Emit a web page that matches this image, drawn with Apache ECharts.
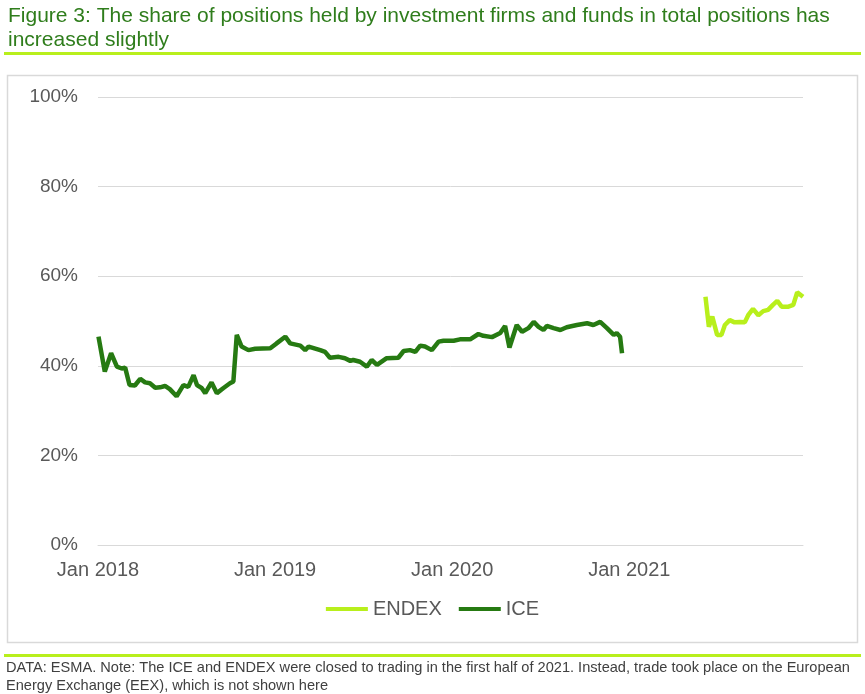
<!DOCTYPE html>
<html>
<head>
<meta charset="utf-8">
<script src="https://cdn.jsdelivr.net/npm/echarts@6/dist/echarts.min.js"></script>
<style>
  html, body { margin: 0; padding: 0; background: #fff; }
  #chart { width: 865px; height: 694px; }
</style>
</head>
<body>
<div id="chart"></div>
<script>
// weekly-ish readings, share of positions (%)
var iceDates = ['2018-01-02','2018-01-15','2018-01-28','2018-02-09','2018-02-19','2018-02-26','2018-03-07','2018-03-18','2018-03-29','2018-04-08',
  '2018-04-18','2018-04-29','2018-05-09','2018-05-19','2018-05-29','2018-06-12','2018-06-26','2018-07-06','2018-07-17','2018-07-24',
  '2018-08-03','2018-08-10','2018-08-23','2018-09-03','2018-09-16','2018-09-30','2018-10-07','2018-10-14','2018-10-24','2018-11-07',
  '2018-11-21','2018-12-22','2019-01-04','2019-01-22','2019-02-01','2019-02-22','2019-03-04','2019-03-11','2019-04-04','2019-04-14',
  '2019-04-24','2019-05-12','2019-05-25','2019-06-05','2019-06-11','2019-06-25','2019-07-09','2019-07-19','2019-07-30','2019-08-19',
  '2019-09-12','2019-09-23','2019-10-06','2019-10-17','2019-10-27','2019-11-06','2019-11-20','2019-12-04','2019-12-14','2020-01-04',
  '2020-01-17','2020-02-07','2020-02-24','2020-03-05','2020-03-23','2020-04-09','2020-04-19','2020-04-28','2020-05-13','2020-05-24',
  '2020-06-06','2020-06-17','2020-06-27','2020-07-07','2020-07-14','2020-07-28','2020-08-11','2020-08-24','2020-09-14','2020-10-05',
  '2020-10-18','2020-11-01','2020-11-15','2020-11-29','2020-12-05','2020-12-12','2020-12-16'];
var iceValues = [46.5,38.7,42.8,39.8,39.4,39.6,35.7,35.6,37.1,36.3,
  36.1,35.1,35.2,35.5,34.8,33.2,35.7,35.3,37.9,35.7,
  35.0,33.9,36.3,33.9,35.0,36.1,36.5,46.9,44.3,43.5,
  43.8,43.9,45.0,46.5,45.0,44.5,43.5,44.3,43.5,43.1,
  41.8,42.0,41.7,41.1,41.3,40.9,39.8,41.3,40.2,41.7,
  41.8,43.3,43.5,43.1,44.5,44.3,43.5,45.4,45.6,45.6,
  45.9,45.9,47.1,46.7,46.4,47.3,48.9,44.1,49.1,47.6,
  48.4,49.8,48.7,48.0,48.9,48.4,48.0,48.6,49.1,49.5,
  49.1,49.8,48.4,46.9,47.3,46.5,42.8];

var endexDates = ['2021-06-06','2021-06-13','2021-06-20','2021-06-30','2021-07-09','2021-07-16','2021-07-26','2021-08-05','2021-08-16','2021-08-26',
  '2021-09-02','2021-09-12','2021-09-23','2021-10-03','2021-10-13','2021-10-23','2021-11-01','2021-11-10','2021-11-24','2021-12-04',
  '2021-12-12','2021-12-24'];
var endexValues = [55.4,48.7,51.0,46.9,46.9,49.1,50.2,49.7,49.8,49.7,
  51.3,52.7,51.3,52.2,52.5,53.6,54.5,53.2,53.2,53.6,
  56.4,55.4];

var yTicks = [0, 20, 40, 60, 80, 100];
var xStart = '2018-01-01';
var xEnd = '2021-12-24';

var chart = echarts.init(document.getElementById('chart'));

// days since xStart
function dayNo(s){
    var p = s.split('-');
    var p0 = xStart.split('-');
    return Math.round((Date.UTC(+p[0], p[1]-1, +p[2]) - Date.UTC(+p0[0], p0[1]-1, +p0[2])) / 86400000);
}
function pairs(dates, vals){
    var out = [];
    for (var i = 0; i < dates.length; i++) out.push([dayNo(dates[i]), vals[i]]);
    return out;
}

var font = 'Liberation Sans, Arial, sans-serif';
var lime = '#b8ef1c';

var option = {
    animation: false,
    backgroundColor: '#fff',
    textStyle: { fontFamily: font },
    title: {
        text: 'Figure 3: The share of positions held by investment firms and funds in total positions has\nincreased slightly',
        left: 3, top: -1,
        textStyle: { color: '#2f7d1c', fontSize: 21, fontWeight: 'normal', lineHeight: 24, fontFamily: font }
    },
    graphic: [
        { type: 'rect', shape: { x: 4, y: 52, width: 857, height: 3 }, style: { fill: lime }, silent: true },
        { type: 'rect', shape: { x: 7.5, y: 75.5, width: 850, height: 567 }, style: { fill: 'none', stroke: '#d9d9d9', lineWidth: 1.5 }, silent: true },
        { type: 'rect', shape: { x: 4, y: 654, width: 857, height: 3 }, style: { fill: lime }, silent: true },
        { type: 'text', left: 6, top: 659,
          style: { text: 'DATA: ESMA. Note: The ICE and ENDEX were closed to trading in the first half of 2021. Instead, trade took place on the European\nEnergy Exchange (EEX), which is not shown here',
                   fill: '#404040', fontSize: 14.6, lineHeight: 18, fontFamily: font } }
    ],
    legend: {
        bottom: 70,
        left: 'center',
        itemWidth: 42, itemHeight: 4, itemGap: 17,
        icon: 'rect',
        textStyle: { color: '#595959', fontSize: 20, fontFamily: font },
        data: ['ENDEX', 'ICE']
    },
    grid: { left: 98, right: 62, top: 97, bottom: 149, containLabel: false },
    xAxis: {
        type: 'value',
        min: 0, max: dayNo(xEnd), interval: 365,
        axisLine: { show: true, lineStyle: { color: '#d9d9d9', width: 1 } },
        axisTick: { show: false },
        splitLine: { show: false },
        axisLabel: {
            color: '#595959', fontSize: 20, margin: 15, showMaxLabel: false,
            formatter: function(v){ return v % 365 === 0 ? 'Jan ' + (2018 + v/365) : ''; }
        }
    },
    yAxis: {
        type: 'value',
        min: yTicks[0], max: yTicks[yTicks.length-1], interval: 20,
        axisLine: { show: false },
        axisTick: { show: false },
        splitLine: { lineStyle: { color: '#d9d9d9', width: 1 } },
        axisLabel: { color: '#595959', fontSize: 19, margin: 20, formatter: '{value}%' }
    },
    series: [
        {
            name: 'ENDEX', type: 'line', data: pairs(endexDates, endexValues),
            symbol: 'none', lineStyle: { color: lime, width: 4.5 }, itemStyle: { color: lime }
        },
        {
            name: 'ICE', type: 'line', data: pairs(iceDates, iceValues),
            symbol: 'none', lineStyle: { color: '#267a12', width: 4.5 }, itemStyle: { color: '#267a12' }
        }
    ]
};
chart.setOption(option);
</script>
</body>
</html>
